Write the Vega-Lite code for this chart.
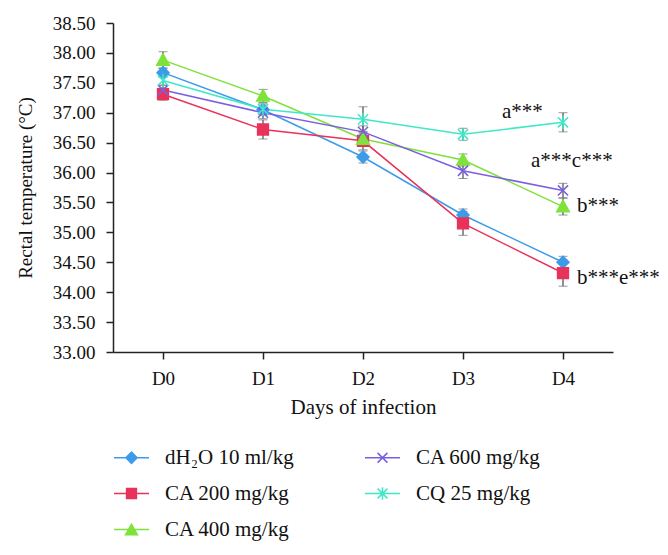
{
  "$schema": "https://vega.github.io/schema/vega-lite/v6.json",
  "width": 500,
  "height": 329,
  "autosize": "none",
  "padding": {"left": 113, "top": 23, "right": 55, "bottom": 203},
  "background": "white",
  "config": {
    "font": "Liberation Serif",
    "view": {"stroke": null},
    "axis": {
      "grid": false,
      "domainColor": "#222",
      "domainWidth": 1.5,
      "tickColor": "#222",
      "tickWidth": 1.5,
      "tickSize": 7,
      "labelFont": "Liberation Serif",
      "labelFontSize": 19,
      "labelColor": "#111",
      "labelOverlap": false,
      "labelBound": false,
      "titleFont": "Liberation Serif",
      "titleFontSize": 21,
      "titleFontWeight": "normal",
      "titleColor": "#111"
    }
  },
  "datasets": {
    "temps": [
      {"series": "dH₂O 10 ml/kg", "day": "D0", "mean": 37.67, "err": 0.08},
      {"series": "dH₂O 10 ml/kg", "day": "D1", "mean": 37.05, "err": 0.08},
      {"series": "dH₂O 10 ml/kg", "day": "D2", "mean": 36.26, "err": 0.1},
      {"series": "dH₂O 10 ml/kg", "day": "D3", "mean": 35.29, "err": 0.1},
      {"series": "dH₂O 10 ml/kg", "day": "D4", "mean": 34.5, "err": 0.1},
      {"series": "CA 200 mg/kg", "day": "D0", "mean": 37.31, "err": 0.1},
      {"series": "CA 200 mg/kg", "day": "D1", "mean": 36.72, "err": 0.16},
      {"series": "CA 200 mg/kg", "day": "D2", "mean": 36.53, "err": 0.15},
      {"series": "CA 200 mg/kg", "day": "D3", "mean": 35.15, "err": 0.2},
      {"series": "CA 200 mg/kg", "day": "D4", "mean": 34.32, "err": 0.22},
      {"series": "CA 400 mg/kg", "day": "D0", "mean": 37.88, "err": 0.14},
      {"series": "CA 400 mg/kg", "day": "D1", "mean": 37.28, "err": 0.11},
      {"series": "CA 400 mg/kg", "day": "D2", "mean": 36.56, "err": 0.1},
      {"series": "CA 400 mg/kg", "day": "D3", "mean": 36.21, "err": 0.1},
      {"series": "CA 400 mg/kg", "day": "D4", "mean": 35.43, "err": 0.14},
      {"series": "CA 600 mg/kg", "day": "D0", "mean": 37.38, "err": 0.08},
      {"series": "CA 600 mg/kg", "day": "D1", "mean": 37.0, "err": 0.1},
      {"series": "CA 600 mg/kg", "day": "D2", "mean": 36.68, "err": 0.1},
      {"series": "CA 600 mg/kg", "day": "D3", "mean": 36.03, "err": 0.13},
      {"series": "CA 600 mg/kg", "day": "D4", "mean": 35.7, "err": 0.12},
      {"series": "CQ 25 mg/kg", "day": "D0", "mean": 37.54, "err": 0.08},
      {"series": "CQ 25 mg/kg", "day": "D1", "mean": 37.06, "err": 0.1},
      {"series": "CQ 25 mg/kg", "day": "D2", "mean": 36.89, "err": 0.21},
      {"series": "CQ 25 mg/kg", "day": "D3", "mean": 36.64, "err": 0.1},
      {"series": "CQ 25 mg/kg", "day": "D4", "mean": 36.84, "err": 0.16}
    ],
    "keys": [
      {"series": "dH₂O 10 ml/kg", "day": "D0", "mean": 30},
      {"series": "CA 200 mg/kg", "day": "D0", "mean": 30},
      {"series": "CA 400 mg/kg", "day": "D0", "mean": 30},
      {"series": "CA 600 mg/kg", "day": "D0", "mean": 30},
      {"series": "CQ 25 mg/kg", "day": "D0", "mean": 30}
    ],
    "notes": [
      {"note": "a***", "day": "D4", "mean": 36.91},
      {"note": "a***c***", "day": "D4", "mean": 36.09},
      {"note": "b***", "day": "D4", "mean": 35.34},
      {"note": "b***e***", "day": "D4", "mean": 34.14}
    ]
  },
  "encoding": {
    "x": {
      "field": "day",
      "type": "ordinal",
      "scale": {"type": "point", "padding": 0.5, "domain": ["D0", "D1", "D2", "D3", "D4"]},
      "axis": {"title": "Days of infection", "labelAngle": 0, "labelPadding": 10, "titlePadding": 8}
    },
    "y": {
      "field": "mean",
      "type": "quantitative",
      "title": "Rectal temperature (°C)",
      "scale": {"domain": [33, 38.5], "zero": false, "nice": false},
      "axis": {
        "title": "Rectal temperature (°C)",
        "values": [33, 33.5, 34, 34.5, 35, 35.5, 36, 36.5, 37, 37.5, 38, 38.5],
        "tickCount": 12,
        "format": ".2f",
        "labelPadding": 11,
        "titlePadding": 17,
        "titleFontSize": 19
      }
    }
  },
  "layer": [
    {
      "data": {"name": "temps"},
      "mark": {"type": "line", "strokeWidth": 1.5},
      "encoding": {
        "color": {
          "field": "series",
          "type": "nominal",
          "scale": {
            "domain": ["dH₂O 10 ml/kg", "CA 200 mg/kg", "CA 400 mg/kg", "CA 600 mg/kg", "CQ 25 mg/kg"],
            "range": ["#3d9be9", "#e8325a", "#7ee23a", "#7b5ee0", "#3fe8c8"]
          },
          "legend": null
        }
      }
    },
    {
      "data": {"name": "temps"},
      "mark": {"type": "errorbar", "ticks": {"size": 9, "color": "#6e6e6e", "strokeWidth": 1.5}, "rule": {"color": "#6e6e6e", "strokeWidth": 1.5}},
      "encoding": {
        "yError": {"field": "err"}
      }
    },
    {
      "data": {"name": "temps"},
      "mark": {"type": "point", "filled": true, "opacity": 1, "size": 144, "strokeWidth": 1.5},
      "encoding": {
        "shape": {
          "field": "series",
          "type": "nominal",
          "scale": {
            "domain": ["dH₂O 10 ml/kg", "CA 200 mg/kg", "CA 400 mg/kg", "CA 600 mg/kg", "CQ 25 mg/kg"],
            "range": [
              "M0,-1L1,0L0,1L-1,0Z",
              "M-0.9,-0.9H0.9V0.9H-0.9Z",
              "M0,-1.05L1.05,0.85H-1.05Z",
              "M-0.85,-0.85L0.85,0.85M-0.85,0.85L0.85,-0.85",
              "M-0.85,-0.85L0.85,0.85M-0.85,0.85L0.85,-0.85M0,-1.1V1.1"
            ]
          },
          "legend": null
        },
        "fill": {
          "field": "series",
          "type": "nominal",
          "scale": {
            "domain": ["dH₂O 10 ml/kg", "CA 200 mg/kg", "CA 400 mg/kg", "CA 600 mg/kg", "CQ 25 mg/kg"],
            "range": ["#3d9be9", "#e8325a", "#7ee23a", "#7b5ee0", "#3fe8c8"]
          },
          "legend": null
        },
        "stroke": {
          "field": "series",
          "type": "nominal",
          "scale": {
            "domain": ["dH₂O 10 ml/kg", "CA 200 mg/kg", "CA 400 mg/kg", "CA 600 mg/kg", "CQ 25 mg/kg"],
            "range": ["#3d9be9", "#e8325a", "#7ee23a", "#7b5ee0", "#3fe8c8"]
          },
          "legend": null
        }
      }
    },
    {
      "data": {"name": "keys"},
      "mark": {"type": "point", "filled": true, "opacity": 1, "size": 1225, "strokeWidth": 1.5, "clip": true},
      "encoding": {
        "shape": {
          "field": "series",
          "type": "nominal",
          "scale": {
            "domain": ["dH₂O 10 ml/kg", "CA 200 mg/kg", "CA 400 mg/kg", "CA 600 mg/kg", "CQ 25 mg/kg"],
            "range": [
              "M-1,0H1M0,-0.32L0.32,0L0,0.32L-0.32,0Z",
              "M-1,0H1M-0.28,-0.28H0.28V0.28H-0.28Z",
              "M-1,0H1M0,-0.3L0.34,0.3H-0.34Z",
              "M-1,0H1M-0.28,-0.28L0.28,0.28M-0.28,0.28L0.28,-0.28",
              "M-1,0H1M-0.28,-0.28L0.28,0.28M-0.28,0.28L0.28,-0.28M0,-0.36V0.36"
            ]
          },
          "legend": {"title": null, "orient": "none", "legendX": 0, "legendY": 416, "columns": 2, "symbolSize": 1225, "symbolStrokeWidth": 1.5, "labelFontSize": 21, "labelFont": "Liberation Serif", "labelColor": "#111", "labelOffset": 15, "columnPadding": 68, "rowPadding": 7, "padding": 0, "labelLimit": 300}
        },
        "fill": {
          "field": "series",
          "type": "nominal",
          "scale": {
            "domain": ["dH₂O 10 ml/kg", "CA 200 mg/kg", "CA 400 mg/kg", "CA 600 mg/kg", "CQ 25 mg/kg"],
            "range": ["#3d9be9", "#e8325a", "#7ee23a", "#7b5ee0", "#3fe8c8"]
          },
          "legend": {"title": null, "orient": "none", "legendX": 0, "legendY": 416, "columns": 2, "symbolSize": 1225, "symbolStrokeWidth": 1.5, "labelFontSize": 21, "labelFont": "Liberation Serif", "labelColor": "#111", "labelOffset": 15, "columnPadding": 68, "rowPadding": 7, "padding": 0, "labelLimit": 300}
        },
        "stroke": {
          "field": "series",
          "type": "nominal",
          "scale": {
            "domain": ["dH₂O 10 ml/kg", "CA 200 mg/kg", "CA 400 mg/kg", "CA 600 mg/kg", "CQ 25 mg/kg"],
            "range": ["#3d9be9", "#e8325a", "#7ee23a", "#7b5ee0", "#3fe8c8"]
          },
          "legend": {"title": null, "orient": "none", "legendX": 0, "legendY": 416, "columns": 2, "symbolSize": 1225, "symbolStrokeWidth": 1.5, "labelFontSize": 21, "labelFont": "Liberation Serif", "labelColor": "#111", "labelOffset": 15, "columnPadding": 68, "rowPadding": 7, "padding": 0, "labelLimit": 300}
        }
      }
    },
    {
      "data": {"name": "notes"},
      "transform": [{"filter": "datum.note === 'a***'"}],
      "mark": {"type": "text", "align": "left", "baseline": "alphabetic", "dx": -61, "fontSize": 21, "font": "Liberation Serif", "color": "#111"},
      "encoding": {"text": {"field": "note"}}
    },
    {
      "data": {"name": "notes"},
      "transform": [{"filter": "datum.note === 'a***c***'"}],
      "mark": {"type": "text", "align": "left", "baseline": "alphabetic", "dx": -32, "fontSize": 21, "font": "Liberation Serif", "color": "#111"},
      "encoding": {"text": {"field": "note"}}
    },
    {
      "data": {"name": "notes"},
      "transform": [{"filter": "datum.note === 'b***' || datum.note === 'b***e***'"}],
      "mark": {"type": "text", "align": "left", "baseline": "alphabetic", "dx": 14, "fontSize": 21, "font": "Liberation Serif", "color": "#111"},
      "encoding": {"text": {"field": "note"}}
    }
  ],
  "resolve": {"scale": {"color": "independent", "shape": "independent", "fill": "independent", "stroke": "independent"}}
}
